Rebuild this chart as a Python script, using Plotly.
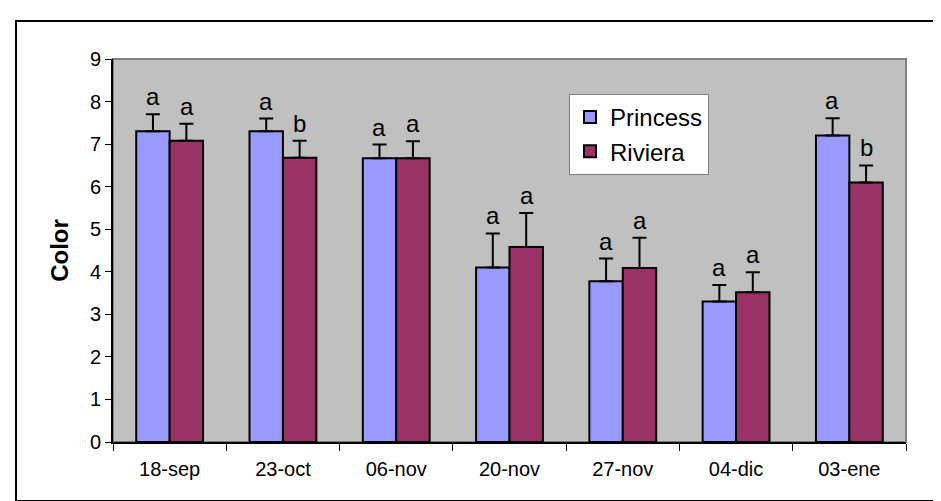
import plotly.graph_objects as go

categories = ["18-sep", "23-oct", "06-nov", "20-nov", "27-nov", "04-dic", "03-ene"]
princess = [7.3, 7.3, 6.67, 4.1, 3.78, 3.3, 7.2]
princess_err = [0.4, 0.3, 0.32, 0.8, 0.53, 0.39, 0.41]
riviera = [7.08, 6.68, 6.67, 4.58, 4.09, 3.52, 6.1]
riviera_err = [0.4, 0.4, 0.4, 0.8, 0.71, 0.47, 0.4]
princess_letters = ["a", "a", "a", "a", "a", "a", "a"]
riviera_letters = ["a", "b", "a", "a", "a", "a", "b"]

FONT = "Arial, Liberation Sans, sans-serif"

fig = go.Figure()
fig.add_trace(go.Bar(
    x=categories, y=princess, name="Princess",
    marker=dict(color="#9999FF", line=dict(color="black", width=2)),
    error_y=dict(type="data", symmetric=False, array=princess_err,
                 arrayminus=[0] * len(princess), color="black", thickness=2, width=7),
))
fig.add_trace(go.Bar(
    x=categories, y=riviera, name="Riviera",
    marker=dict(color="#993366", line=dict(color="black", width=2)),
    error_y=dict(type="data", symmetric=False, array=riviera_err,
                 arrayminus=[0] * len(riviera), color="black", thickness=2, width=7),
))

annotations = []
for c, v, e, t in zip(categories, princess, princess_err, princess_letters):
    annotations.append(dict(x=c, y=v + e, text=t, xref="x", yref="y", showarrow=False,
                            xshift=-17, yshift=2, yanchor="bottom",
                            font=dict(family=FONT, size=24, color="black")))
for c, v, e, t in zip(categories, riviera, riviera_err, riviera_letters):
    annotations.append(dict(x=c, y=v + e, text=t, xref="x", yref="y", showarrow=False,
                            xshift=17, yshift=2, yanchor="bottom",
                            font=dict(family=FONT, size=24, color="black")))

fig.update_layout(
    width=941, height=501,
    margin=dict(l=105, r=43, t=51, b=67),
    paper_bgcolor="white", plot_bgcolor="#C0C0C0",
    barmode="group", bargap=0.41, bargroupgap=0,
    font=dict(family=FONT, size=20, color="black"),
    showlegend=True,
    legend=dict(x=0.575, y=0.909, xanchor="left", yanchor="top",
                bgcolor="white", bordercolor="#808080", borderwidth=1,
                font=dict(family=FONT, size=24, color="black"),
                itemwidth=30, tracegroupgap=0),
    annotations=annotations,
    shapes=[
        dict(type="rect", xref="paper", yref="paper", x0=0, x1=1, y0=0, y1=1,
             line=dict(color="#808080", width=2), layer="below"),
        dict(type="rect", xref="paper", yref="paper", x0=-0.1223, x1=1.044,
             y0=-0.154, y1=1.099, line=dict(color="black", width=2), layer="above"),
    ],
)
fig.update_xaxes(showgrid=False, showline=True, linecolor="black", linewidth=2,
                 ticks="outside", tickson="boundaries", ticklen=7, tickcolor="black",
                 tickwidth=1, tickfont=dict(size=20), ticklabelstandoff=8)
fig.update_yaxes(range=[0, 9], dtick=1, showgrid=False, zeroline=False, showline=True,
                 linecolor="black", linewidth=2, ticks="outside", ticklen=6,
                 tickcolor="black", tickwidth=1, tickfont=dict(size=20),
                 title=dict(text="<b>Color</b>", font=dict(size=24), standoff=14))

fig.write_html("out.html")
